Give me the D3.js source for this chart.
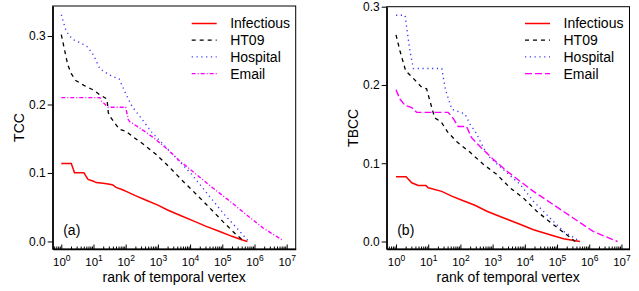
<!DOCTYPE html>
<html>
<head>
<meta charset="utf-8">
<script src="https://cdn.jsdelivr.net/npm/d3@7"></script>
<style>
  body { margin: 0; background: #fff; }
  svg text { font-family: "Liberation Sans", Arial, Helvetica, sans-serif; fill: #000; }
</style>
</head>
<body>
<svg id="chart" width="639" height="291"></svg>
<script>
// points are [log10(rank), value]
const tccInfectious = [[0,0.1137],[0.31,0.1137],[0.41,0.1005],[0.70,0.1005],[0.83,0.0907],[1.0,0.088],[1.08,0.086],[1.3,0.085],[1.5,0.0835],[1.6,0.0825],[1.7,0.079],[1.9,0.0755],[2.05,0.0725],[2.3,0.067],[2.6,0.061],[3.0,0.053],[3.3,0.046],[3.7,0.038],[4.1,0.030],[4.5,0.022],[4.9,0.015],[5.3,0.0075],[5.6,0.0025],[5.78,0.0]];
const tccHT09 = [[0,0.302],[0.1,0.28],[0.2,0.258],[0.31,0.245],[0.45,0.235],[0.7,0.228],[1.0,0.221],[1.2,0.214],[1.42,0.208],[1.46,0.188],[1.55,0.18],[1.8,0.164],[2.0,0.161],[2.25,0.152],[2.55,0.142],[2.95,0.127],[3.37,0.108],[3.78,0.088],[4.19,0.069],[4.61,0.049],[5.02,0.029],[5.43,0.01],[5.69,0.0]];
const tccHospital = [[0,0.331],[0.15,0.307],[0.35,0.295],[0.6,0.29],[0.82,0.284],[1.0,0.272],[1.2,0.252],[1.5,0.243],[1.8,0.237],[2.0,0.216],[2.2,0.197],[2.45,0.182],[2.8,0.16],[3.2,0.14],[3.65,0.118],[4.05,0.098],[4.55,0.069],[5.07,0.039],[5.54,0.015],[5.82,0.0]];
const tccEmail = [[0,0.21],[1.2,0.21],[1.25,0.205],[1.45,0.196],[2.0,0.196],[2.08,0.178],[2.12,0.175],[2.43,0.166],[2.85,0.152],[3.26,0.136],[3.67,0.118],[4.19,0.098],[4.71,0.078],[5.23,0.059],[5.75,0.039],[6.26,0.02],[6.83,0.003],[6.88,0.0]];

const tbccInfectious = [[0,0.0827],[0.31,0.0827],[0.49,0.075],[0.69,0.0716],[0.93,0.0716],[1.0,0.0686],[1.42,0.064],[1.73,0.058],[2.09,0.052],[2.45,0.0463],[2.82,0.0386],[3.23,0.032],[3.75,0.0236],[4.27,0.015],[4.78,0.0086],[5.2,0.0034],[5.71,0.0]];
const tbccHT09 = [[0,0.264],[0.12,0.244],[0.3,0.218],[0.5,0.21],[0.8,0.197],[0.95,0.195],[1.05,0.18],[1.2,0.158],[1.4,0.153],[1.6,0.14],[1.9,0.127],[2.3,0.114],[2.71,0.0986],[3.13,0.0857],[3.54,0.0686],[3.95,0.0557],[4.37,0.0386],[4.89,0.0214],[5.3,0.0086],[5.56,0.0]];
const tbccHospital = [[0,0.289],[0.28,0.289],[0.43,0.244],[0.54,0.221],[1.42,0.221],[1.53,0.195],[1.73,0.169],[2.14,0.163],[2.3,0.15],[2.5,0.138],[2.71,0.12],[2.92,0.107],[3.33,0.092],[3.85,0.073],[4.27,0.0514],[4.78,0.03],[5.2,0.013],[5.71,0.0]];
const tbccEmail = [[0,0.194],[0.12,0.182],[0.28,0.174],[0.49,0.171],[0.64,0.165],[1.62,0.165],[1.78,0.157],[1.93,0.147],[2.19,0.147],[2.34,0.133],[2.64,0.12],[3.02,0.105],[3.44,0.09],[3.85,0.077],[4.27,0.064],[4.89,0.047],[5.5,0.03],[6.12,0.013],[6.75,0.002],[6.88,0.0]];

const seriesNames = ['Infectious', 'HT09', 'Hospital', 'Email'];
const yTicks = [0, 0.1, 0.2, 0.3];
const xTickExps = [0, 1, 2, 3, 4, 5, 6, 7];

const lineStyles = [
  { color: '#ff0000', width: 1.5, dash: null },
  { color: '#000000', width: 1.3, dash: '4,4' },
  { color: '#3a3aff', width: 1.4, dash: '1.2,3.6' },
  { color: '#ff00ff', width: 1.4, dash: '4,2,1,2' }
];

const panels = [
  { tag: '(a)', title: 'TCC', series: [tccInfectious, tccHT09, tccHospital, tccEmail],
    left: 52.7, right: 295.7, top: 6, bottom: 249,
    xlo: -0.267, xhi: 7.28, ylo: -0.011, yhi: 0.3438,
    emailDash: '4,2,1,2', legendX: 191.7, titleX: 19 },
  { tag: '(b)', title: 'TBCC', series: [tbccInfectious, tbccHT09, tbccHospital, tbccEmail],
    left: 386.7, right: 629.5, top: 6.7, bottom: 249,
    xlo: -0.289, xhi: 7.25, ylo: -0.0096, yhi: 0.3,
    emailDash: '7,3', legendX: 525, titleX: 353 }
];

const svg = d3.select('#chart');

const drawPanel = (p) => {
  const x = d3.scaleLog()
    .domain([Math.pow(10, p.xlo), Math.pow(10, p.xhi)])
    .range([p.left, p.right]);
  const y = d3.scaleLinear()
    .domain([p.ylo, p.yhi])
    .range([p.bottom, p.top]);

  const g = svg.append('g');

  // frame
  g.append('rect')
    .attr('x', p.left).attr('y', p.top)
    .attr('width', p.right - p.left).attr('height', p.bottom - p.top)
    .attr('fill', 'none').attr('stroke', '#000').attr('stroke-width', 1);

  // minor ticks on log axis
  const minor = [];
  for (let k = -1; k < 8; k++) {
    for (let m = 2; m < 10; m++) {
      const v = m * Math.pow(10, k);
      if (v > x.domain()[0] && v < x.domain()[1]) minor.push(v);
    }
  }
  g.append('g')
    .attr('transform', `translate(0,${p.bottom})`)
    .call(d3.axisBottom(x).tickValues(minor).tickFormat('').tickSize(-2.5).tickSizeOuter(0))
    .call(s => s.select('.domain').remove());

  const xAxis = g.append('g')
    .attr('transform', `translate(0,${p.bottom})`)
    .call(d3.axisBottom(x).tickValues(xTickExps.map(e => Math.pow(10, e)))
      .tickSize(-4.5).tickSizeOuter(0).tickPadding(9));
  xAxis.select('.domain').attr('stroke-width', 1.4);
  xAxis.selectAll('.tick text').each(function (d, i) {
    const t = d3.select(this).text(null).attr('font-size', 11.5);
    t.append('tspan').text('10');
    t.append('tspan').attr('dy', -5).attr('font-size', 8.5).text(xTickExps[i]);
  });
  xAxis.selectAll('.tick line').attr('stroke-width', 1);

  const yAxis = g.append('g')
    .attr('transform', `translate(${p.left},0)`)
    .call(d3.axisLeft(y).tickValues(yTicks).tickFormat(d3.format('.1f'))
      .tickSize(5).tickSizeOuter(0).tickPadding(2));
  yAxis.select('.domain').attr('stroke-width', 1.4);
  yAxis.selectAll('.tick text').attr('font-size', 12);

  // axis titles
  g.append('text')
    .attr('x', (p.left + p.right) / 2).attr('y', 282)
    .attr('text-anchor', 'middle').attr('font-size', 14)
    .text('rank of temporal vertex');
  g.append('text')
    .attr('transform', `translate(${p.titleX},${(p.top + p.bottom) / 2}) rotate(-90)`)
    .attr('text-anchor', 'middle').attr('dy', '0.35em').attr('font-size', 14)
    .text(p.title);

  // curves
  const line = d3.line()
    .x(d => x(Math.pow(10, d[0])))
    .y(d => y(d[1]));

  p.series.forEach((data, i) => {
    const st = lineStyles[i];
    g.append('path')
      .datum(data)
      .attr('d', line)
      .attr('fill', 'none')
      .attr('stroke', st.color)
      .attr('stroke-width', st.width)
      .attr('stroke-dasharray', i === 3 ? p.emailDash : st.dash);
  });

  // legend
  seriesNames.forEach((name, i) => {
    const st = lineStyles[i];
    const ly = 23.5 + i * 16.7;
    g.append('line')
      .attr('x1', p.legendX).attr('x2', p.legendX + 25)
      .attr('y1', ly).attr('y2', ly)
      .attr('stroke', st.color).attr('stroke-width', st.width)
      .attr('stroke-dasharray', i === 3 ? p.emailDash : st.dash);
    g.append('text')
      .attr('x', p.legendX + 38.5).attr('y', ly)
      .attr('dy', '0.35em').attr('font-size', 14)
      .text(name);
  });

  // panel tag
  g.append('text')
    .attr('x', p.left + 10.5).attr('y', 235)
    .attr('font-size', 14)
    .text(p.tag);
};

panels.forEach(drawPanel);
</script>
</body>
</html>
